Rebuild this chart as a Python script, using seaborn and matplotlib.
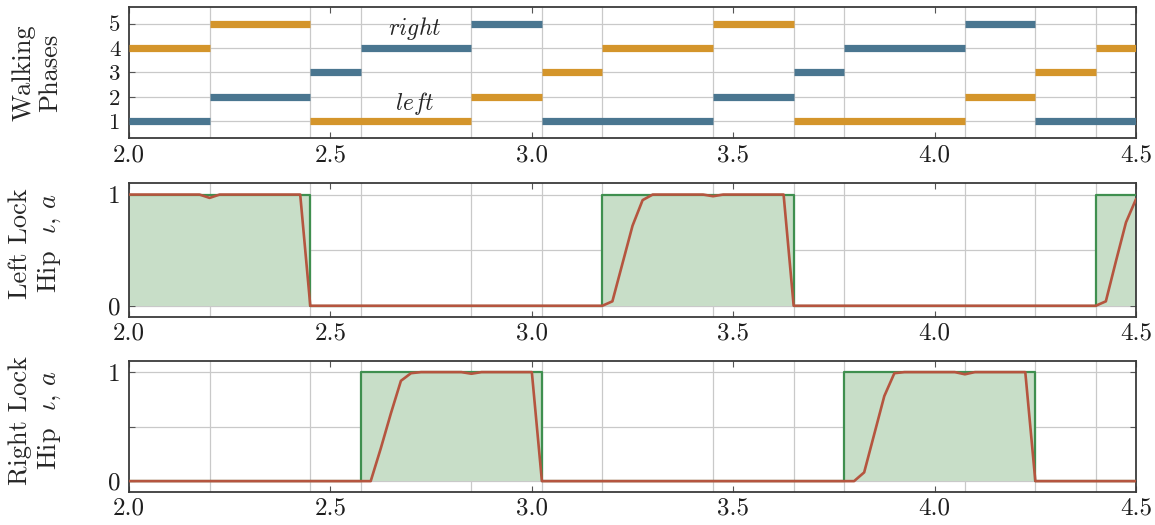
"""
Walking phases and hip lock signals (left / right leg).
"""

import matplotlib
matplotlib.use("Agg")
import matplotlib.pyplot as plt
import pandas as pd
import seaborn as sns

# ── Data ──────────────────────────────────────────────────────────────────────
X_TICKS = [2.0, 2.5, 3.0, 3.5, 4.0, 4.5]
X_LABELS = ["2.0", "2.5", "3.0", "3.5", "4.0", "4.5"]
T_END = 4.5

# phase switch instants (vertical grid lines)
PHASE_SWITCH = [2.2, 2.45, 2.575, 2.85, 3.025, 3.175, 3.45, 3.65, 3.775,
                4.075, 4.25, 4.4]

LEFT_PHASE_START = [2.0, 2.2, 2.45, 2.85, 3.025, 3.175, 3.45, 3.65, 4.075, 4.25, 4.4]
LEFT_PHASE = [4, 5, 1, 2, 3, 4, 5, 1, 2, 3, 4]
RIGHT_PHASE_START = [2.0, 2.2, 2.45, 2.575, 2.85, 3.025, 3.45, 3.65, 3.775, 4.075, 4.25]
RIGHT_PHASE = [1, 2, 3, 4, 5, 1, 2, 3, 4, 5, 1]

# lock command (iota), step-post
LEFT_LOCK_T = [2.0, 2.45, 3.175, 3.65, 4.4, 4.5]
LEFT_LOCK = [1, 0, 1, 0, 1, 1]
RIGHT_LOCK_T = [2.0, 2.575, 3.025, 3.775, 4.25, 4.5]
RIGHT_LOCK = [0, 1, 0, 1, 0, 0]

# actual lock state (a)
LEFT_ACT_T = [2.0, 2.175, 2.2, 2.225, 2.425, 2.45, 3.175, 3.2, 3.225, 3.25,
              3.275, 3.3, 3.425, 3.45, 3.475, 3.625, 3.65, 4.4, 4.425, 4.45,
              4.475, 4.5]
LEFT_ACT = [1.0, 1.0, 0.97, 1.0, 1.0, 0.0, 0.0, 0.04, 0.38, 0.72,
            0.95, 1.0, 1.0, 0.985, 1.0, 1.0, 0.0, 0.0, 0.04, 0.40,
            0.75, 0.96]
RIGHT_ACT_T = [2.0, 2.575, 2.6, 2.625, 2.65, 2.675, 2.7, 2.725, 2.825, 2.85,
               2.875, 3.0, 3.025, 3.775, 3.8, 3.825, 3.85, 3.875, 3.9, 3.925,
               4.05, 4.075, 4.1, 4.225, 4.25, 4.5]
RIGHT_ACT = [0.0, 0.0, 0.0, 0.30, 0.62, 0.92, 0.99, 1.0, 1.0, 0.985,
             1.0, 1.0, 0.0, 0.0, 0.0, 0.08, 0.43, 0.78, 0.99, 1.0,
             1.0, 0.98, 1.0, 1.0, 0.0, 0.0]

# ── Style ─────────────────────────────────────────────────────────────────────
sns.set_theme(style="white")
plt.rcParams.update({
    "font.family": "serif", "font.serif": ["cmr10"],
    "mathtext.fontset": "cm", "axes.unicode_minus": False,
    "axes.formatter.use_mathtext": True,
    "figure.facecolor": "white", "axes.facecolor": "white",
})

ORANGE = "#d4952b"
BLUE = "#4a7690"
GREEN = "#3f8f4f"
FILL = "#c8dec8"
RED = "#b5553f"
GRID = "#c9c9c9"
SPINE = "#3a3a3a"


def style_axis(ax, yticks, ylabels, ylim, ysize):
    ax.set_xlim(2.0, T_END)
    ax.set_ylim(*ylim)
    ax.set_xticks(X_TICKS)
    ax.set_xticklabels(X_LABELS, fontsize=18)
    ax.set_xticks(PHASE_SWITCH, minor=True)
    ax.set_yticks(yticks)
    ax.set_yticklabels(ylabels, fontsize=ysize)
    ax.tick_params(which="major", direction="in", length=4, width=0.8,
                   color="#555555", top=True, right=True, bottom=True, left=True,
                   pad=6, labelcolor="#1e1e1e")
    ax.tick_params(axis="x", which="major", pad=4)
    ax.tick_params(which="minor", length=0)
    ax.grid(False)
    ax.grid(True, axis="x", which="minor", color=GRID, lw=0.9)
    ax.grid(True, axis="y", which="major", color=GRID, lw=0.9)
    ax.set_axisbelow(True)
    for s in ax.spines.values():
        s.set_color(SPINE)
        s.set_linewidth(1.3)
    ax.set_xlabel("")


def phase_bars(ax, start, phase, color):
    end = start[1:] + [T_END]
    ax.hlines(phase, start, end, color=color, lw=5.2, zorder=3)


def lock_panel(ax, lock_t, lock, act_t, act):
    ax.fill_between(lock_t, 0, lock, step="post", color=FILL, lw=0, zorder=2)
    ax.step(lock_t, lock, where="post", color=GREEN, lw=1.6, zorder=3)
    df = pd.DataFrame({"t": act_t, "a": act})
    sns.lineplot(data=df, x="t", y="a", ax=ax, color=RED, lw=1.9,
                 sort=False, estimator=None, zorder=4)


# ── Figure ────────────────────────────────────────────────────────────────────
fig = plt.figure(figsize=(11.55, 5.25), dpi=100)
ax1 = fig.add_axes([0.1117, 0.7363, 0.8719, 0.2513])
ax2 = fig.add_axes([0.1117, 0.3964, 0.8719, 0.2542])
ax3 = fig.add_axes([0.1117, 0.0628, 0.8719, 0.2492])

# walking phases
phase_bars(ax1, LEFT_PHASE_START, LEFT_PHASE, ORANGE)
phase_bars(ax1, RIGHT_PHASE_START, RIGHT_PHASE, BLUE)
ax1.text(2.71, 4.55, r"$right$", fontsize=17, ha="center", va="baseline", zorder=5)
ax1.text(2.71, 1.47, r"$left$", fontsize=17, ha="center", va="baseline", zorder=5)
style_axis(ax1, [1, 2, 3, 4, 5], ["1", "2", "3", "4", "5"], (0.3, 5.7), 16.5)
ax1.set_ylabel("Walking\nPhases", fontsize=19, linespacing=1.2)

# hip locks
lock_panel(ax2, LEFT_LOCK_T, LEFT_LOCK, LEFT_ACT_T, LEFT_ACT)
style_axis(ax2, [0, 0.5, 1], ["0", "", "1"], (-0.1, 1.1), 18)
ax2.set_ylabel("Left Lock\n" + r"Hip  $\iota$, $a$", fontsize=19, linespacing=1.2)

lock_panel(ax3, RIGHT_LOCK_T, RIGHT_LOCK, RIGHT_ACT_T, RIGHT_ACT)
style_axis(ax3, [0, 0.5, 1], ["0", "", "1"], (-0.1, 1.1), 18)
ax3.set_ylabel("Right Lock\n" + r"Hip  $\iota$, $a$", fontsize=19, linespacing=1.2)

ax1.yaxis.set_label_coords(-0.066, 0.5)
ax2.yaxis.set_label_coords(-0.066, 0.55)
ax3.yaxis.set_label_coords(-0.066, 0.55)

fig.savefig("out.png", dpi=100)
